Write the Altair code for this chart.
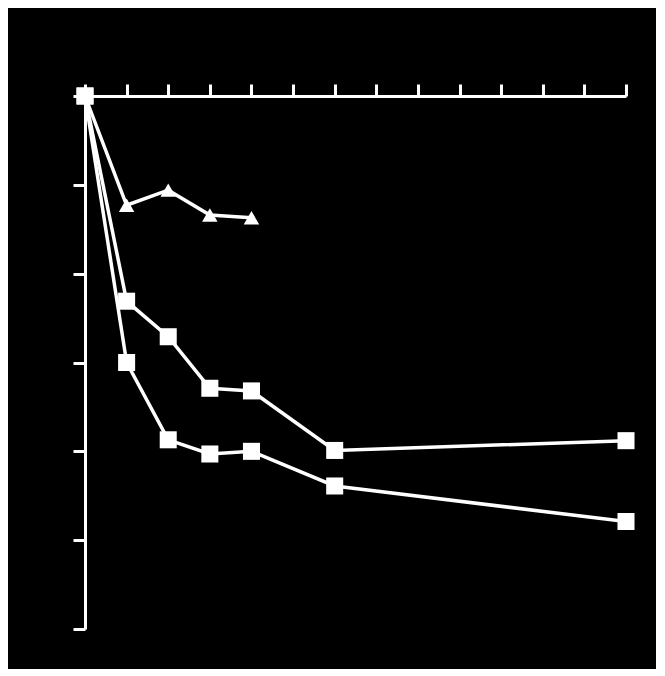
import altair as alt
import pandas as pd

x_tri = [0, 1, 2, 3, 4]
y_tri = [0, 1.23, 1.06, 1.34, 1.37]
x_sq = [0, 1, 2, 3, 4, 6, 13]
y_sq_a = [0, 2.31, 2.71, 3.29, 3.32, 3.99, 3.88]
y_sq_b = [0, 3.0, 3.87, 4.03, 4.0, 4.39, 4.79]

rows = []
for x, y in zip(x_tri, y_tri):
    rows.append({"x": x, "y": y, "s": "tri", "shape": "triangle-up"})
for x, y in zip(x_sq, y_sq_a):
    rows.append({"x": x, "y": y, "s": "a", "shape": "square"})
for x, y in zip(x_sq, y_sq_b):
    rows.append({"x": x, "y": y, "s": "b", "shape": "square"})
df = pd.DataFrame(rows)

xs = alt.Scale(domain=[0, 13], nice=False)
ys = alt.Scale(domain=[0, 6], reverse=True, nice=False)

xax = alt.Axis(orient="top", labels=False, title=None, grid=False, values=list(range(14)),
               tickSize=12, tickWidth=3, tickColor="white", domainColor="white", domainWidth=3)
yax = alt.Axis(orient="left", labels=False, title=None, grid=False, values=list(range(7)),
               tickSize=12, tickWidth=3, tickColor="white", domainColor="white", domainWidth=3)

base = alt.Chart(df)
lines = base.mark_line(color="white", strokeWidth=3.5).encode(
    x=alt.X("x:Q", scale=xs, axis=xax),
    y=alt.Y("y:Q", scale=ys, axis=yax),
    detail="s:N",
)
squares = base.transform_filter(alt.datum.shape == "square").mark_point(
    shape="square", filled=True, color="white", size=290, opacity=1
).encode(x=alt.X("x:Q", scale=xs), y=alt.Y("y:Q", scale=ys))
tris = base.transform_filter(alt.datum.shape == "triangle-up").mark_point(
    shape="triangle-up", filled=True, color="white", size=240, opacity=1
).encode(x=alt.X("x:Q", scale=xs), y=alt.Y("y:Q", scale=ys))

chart = alt.layer(lines, tris, squares).properties(
    width=541, height=533,
    background="black",
    autosize=alt.AutoSizeParams(type="none"),
    padding={"left": 77, "top": 88, "right": 30, "bottom": 40},
).configure_view(stroke=None)

chart.save("out.html", embed_options={"renderer": "svg", "actions": False})
